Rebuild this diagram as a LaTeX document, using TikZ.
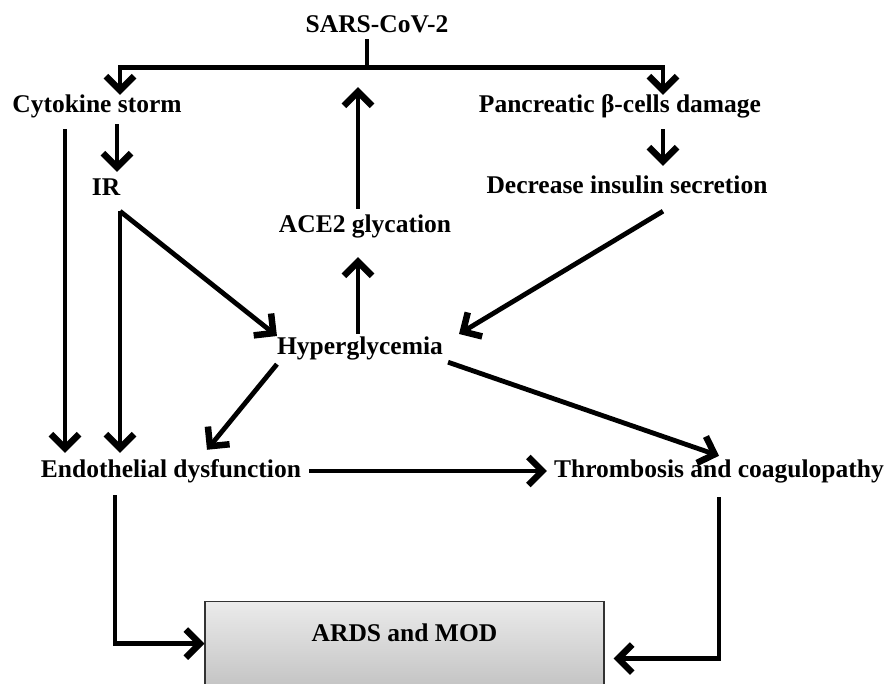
\documentclass[tikz,border=0pt]{standalone}
\usepackage{fontspec}
\setmainfont{Liberation Serif}
\usetikzlibrary{arrows.meta}

\begin{document}
\begin{tikzpicture}[x=1pt,y=-1pt,
	lbl/.style={inner sep=0pt,text height=18pt,text depth=6pt,font=\fontsize{25.5}{30}\selectfont\bfseries},
	arr/.style={line width=4.8pt,-{Straight Barb[length=14pt,width=28pt,line width=6.5pt]}},
	ln/.style={line width=4.8pt}]
	\clip (0,0) rectangle (889,684);
	\node[lbl] (sars) at (377,27) {SARS-CoV-2};
	\node[lbl] (cyto) at (97,107) {Cytokine storm};
	\node[lbl] (panc) at (620,107) {Pancreatic β-cells damage};
	\node[lbl] (ir) at (106,190) {IR};
	\node[lbl] (dec) at (627,188) {Decrease insulin secretion};
	\node[lbl] (ace) at (365,227) {ACE2 glycation};
	\node[lbl] (hyp) at (360,349) {Hyperglycemia};
	\node[lbl] (endo) at (171,471) {Endothelial dysfunction};
	\node[lbl] (thr) at (719,471) {Thrombosis and coagulopathy};
	\node[lbl,draw=black!80,line width=1.2pt,top color=black!8,bottom color=black!29,
		minimum width=399pt,anchor=north,inner ysep=18pt,text height=22pt,text depth=60pt] (ards) at (404.5,601) {ARDS and MOD};
	\draw[ln] ([xshift=-10pt]sars.south) -- ++(0,28) coordinate (split);
	\draw[arr] (split) -| ([xshift=23pt]cyto.north);
	\draw[arr] (split) -| ([xshift=43pt]panc.north);
	\draw[arr] ([xshift=20pt,yshift=-5pt]cyto.south) -- ([xshift=11pt,yshift=6pt]ir.north);
	\draw[arr] ([xshift=43pt,yshift=-10pt]panc.south) -- ([xshift=36pt,yshift=10pt]dec.north);
	\draw[arr] ([xshift=-32pt,yshift=-10pt]cyto.south) -- ([xshift=-106pt,yshift=6pt]endo.north);
	\draw[arr] ([xshift=14pt,yshift=-9pt]ir.south) -- ([xshift=-51pt,yshift=6pt]endo.north);
	\draw[arr] ([xshift=14pt,yshift=-9pt]ir.south) -- ([yshift=13pt]hyp.west);
	\draw[arr] ([xshift=36pt,yshift=-11pt]dec.south) -- ([xshift=16pt,yshift=15pt]hyp.east);
	\draw[arr] ([xshift=-2pt,yshift=3pt]hyp.north) -- ([xshift=-7pt,yshift=-18pt]ace.south);
	\draw[arr] ([xshift=-7pt,yshift=6pt]ace.north) -- ([xshift=-9pt,yshift=-20pt]split);
	\draw[arr] ([yshift=-3pt]hyp.south west) -- ([xshift=36pt,yshift=9pt]endo.north);
	\draw[arr] ([xshift=5pt,yshift=-1pt]hyp.south east) -- ([yshift=3pt]thr.north);
	\draw[arr] ([xshift=8pt]endo.east) -- ([xshift=-7pt]thr.west);
	\draw[arr] ([xshift=-56pt,yshift=-12pt]endo.south) |- ([yshift=17pt]ards.west);
	\draw[arr] ([yshift=-14pt]thr.south) |- ([xshift=9pt,yshift=2pt]ards.east);
\end{tikzpicture}
\end{document}
